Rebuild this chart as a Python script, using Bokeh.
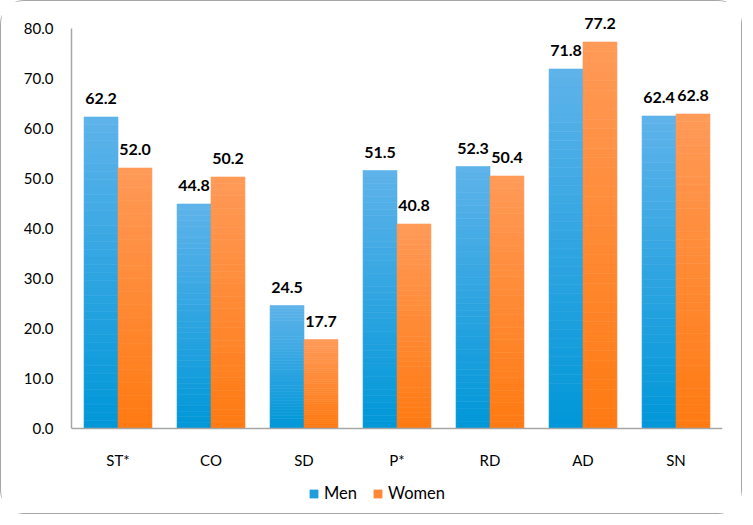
from bokeh.plotting import figure
from bokeh.models import (ColumnDataSource, FactorRange, FixedTicker, NumeralTickFormatter,
                          Legend, LegendItem, LabelSet)
from bokeh.transform import dodge
from bokeh.core.properties import value
from bokeh.embed import file_html
from bokeh.resources import INLINE

categories = ["ST*", "CO", "SD", "P*", "RD", "AD", "SN"]
men = [62.2, 44.8, 24.5, 51.5, 52.3, 71.8, 62.4]
women = [52.0, 50.2, 17.7, 40.8, 50.4, 77.2, 62.8]
y_ticks = [0, 10, 20, 30, 40, 50, 60, 70, 80]

FONT = "Lato"
N_STRIPS = 40
BAR_W = 0.365
OFFSET = 0.1825

def hex2rgb(h):
    h = h.lstrip("#")
    return tuple(int(h[i:i + 2], 16) for i in (0, 2, 4))

def mix(c0, c1, t):
    a, b = hex2rgb(c0), hex2rgb(c1)
    return "#%02x%02x%02x" % tuple(int(round(a[i] + (b[i] - a[i]) * t)) for i in range(3))

def strips(vals, c_bottom, c_top):
    xs, bottoms, tops, colors = [], [], [], []
    for cat, v in zip(categories, vals):
        for k in range(N_STRIPS):
            xs.append(cat)
            bottoms.append(v * k / N_STRIPS)
            tops.append(v * (k + 1) / N_STRIPS)
            colors.append(mix(c_bottom, c_top, (k + 0.5) / N_STRIPS))
    return ColumnDataSource(dict(x=xs, bottom=bottoms, top=tops, color=colors))

p = figure(x_range=FactorRange(*categories, range_padding=0), y_range=(-17.5, 85.3),
           width=742, height=514, output_backend="svg", toolbar_location=None,
           min_border_left=70, min_border_right=21, min_border_top=0, min_border_bottom=0)
p.styles = {"border": "1.5px solid #a6a6a6", "border-radius": "24px"}

men_src = strips(men, "#0097d8", "#5fb3ea")
women_src = strips(women, "#ff7a12", "#ff9a58")

r_men = p.vbar(x=dodge("x", -OFFSET, range=p.x_range), bottom="bottom", top="top", width=BAR_W,
               source=men_src, fill_color="color", line_color="color", line_width=0.6)
r_women = p.vbar(x=dodge("x", OFFSET, range=p.x_range), bottom="bottom", top="top", width=BAR_W,
                 source=women_src, fill_color="color", line_color="color", line_width=0.6)

lab_src = ColumnDataSource(dict(x=categories, men=men, women=women,
                                men_t=["%.1f" % v for v in men],
                                women_t=["%.1f" % v for v in women]))
for key, off in (("men", -OFFSET), ("women", OFFSET)):
    p.add_layout(LabelSet(x=dodge("x", off, range=p.x_range), y=key, text=key + "_t", source=lab_src,
                          text_align="center", text_baseline="alphabetic", y_offset=13,
                          text_font=value(FONT), text_font_style="bold",
                          text_font_size="16px", text_color="#000000"))

leg_src = ColumnDataSource(dict(x=[categories[0]], y=[0]))
leg_men = p.vbar(x="x", top="y", bottom="y", width=0, source=leg_src,
                 fill_color="#1f9ddc", line_color=None)
leg_women = p.vbar(x="x", top="y", bottom="y", width=0, source=leg_src,
                   fill_color="#ff8736", line_color=None)
legend = Legend(items=[LegendItem(label="Men", renderers=[leg_men]),
                       LegendItem(label="Women", renderers=[leg_women])],
                orientation="horizontal", location=(237, 12),
                label_text_font=FONT, label_text_font_size="16.5px", label_text_color="#000000",
                glyph_width=11, glyph_height=11, spacing=15, label_standoff=5,
                border_line_color=None, background_fill_alpha=0, margin=0, padding=4)
p.add_layout(legend)

p.xgrid.grid_line_color = None
p.ygrid.grid_line_color = None
p.outline_line_color = None

p.xaxis.fixed_location = 0
p.yaxis.bounds = (0, 80)
p.yaxis.ticker = FixedTicker(ticks=y_ticks)
p.yaxis.formatter = NumeralTickFormatter(format="0.0")
for ax in (p.xaxis, p.yaxis):
    ax.axis_line_color = "#a6a6a6"
    ax.axis_line_width = 1.5
    ax.major_tick_line_color = None
    ax.minor_tick_line_color = None
    ax.major_tick_out = 0
    ax.minor_tick_out = 0
    ax.major_label_text_font = FONT
    ax.major_label_text_font_size = "15px"
    ax.major_label_text_color = "#000000"
p.yaxis.major_label_standoff = 18
p.xaxis.major_label_standoff = 23

open("out.html", "w").write(file_html(p, INLINE))
